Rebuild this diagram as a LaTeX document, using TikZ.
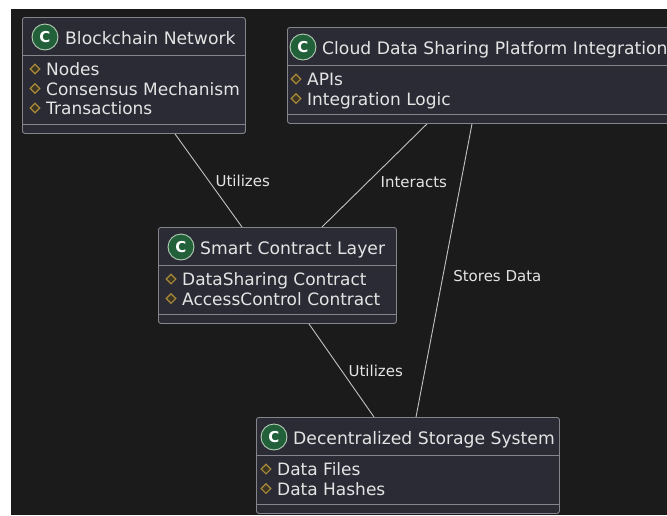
\documentclass[tikz,border=0pt]{standalone}
\usepackage{fontspec}
\setmainfont{DejaVu Sans}
\usetikzlibrary{shapes.geometric}

\definecolor{pagebg}{HTML}{1B1B1B}
\definecolor{boxfill}{HTML}{2B2B35}
\definecolor{boxline}{HTML}{85858C}
\definecolor{inktext}{HTML}{E4E4E4}
\definecolor{badgefill}{HTML}{22603A}
\definecolor{badgeline}{HTML}{B4CDB4}
\definecolor{visgold}{HTML}{A88A3A}
\definecolor{visfill}{HTML}{3E3624}

\tikzset{
  classbox/.style={draw=boxline, fill=boxfill, line width=0.9pt, rounded corners=2.5pt,
    rectangle, inner sep=0pt, anchor=north west},
  sepline/.style={boxline, line width=0.9pt},
  cbadge/.style={circle, draw=badgeline, fill=badgefill, line width=0.9pt,
    minimum size=26pt, inner sep=0pt, text=white, font=\fontsize{15}{15}\selectfont\bfseries},
  ctitle/.style={anchor=base west, inner sep=0pt, text=inktext, font=\fontsize{17.2}{20}\selectfont},
  attr/.style={anchor=base west, inner sep=0pt, text=inktext, font=\fontsize{17}{20}\selectfont},
  vis/.style={diamond, draw=visgold, fill=visfill, line width=1.1pt, minimum size=10pt, inner sep=0pt},
  link/.style={draw=inktext!85!black, line width=0.9pt},
  lbl/.style={anchor=west, inner sep=0pt, text=inktext, font=\fontsize{15}{18}\selectfont}
}

\begin{document}
\begin{tikzpicture}[x=1pt, y=-1pt]
        \useasboundingbox (0,0) rectangle (667,515);
        \fill[white] (0,0) rectangle (667,515);
        \fill[pagebg] (11,9) rectangle (667,515);
        \clip (0,0) rectangle (667,515);
        % Blockchain Network
        \node[classbox, minimum width=223pt, minimum height=116pt] (bc) at (22,17) {};
        \draw[sepline] ([yshift=-38.5pt]bc.north west) -- ([yshift=-38.5pt]bc.north east);
        \draw[sepline] ([yshift=9.5pt]bc.south west) -- ([yshift=9.5pt]bc.south east);
        \node[cbadge] (bcc) at ([xshift=23pt,yshift=-20pt]bc.north west) {C};
        \node[ctitle] (bct) at ([xshift=43pt,yshift=-27.5pt]bc.north west) {Blockchain Network};
        \node[vis] (bcv1) at ([xshift=13pt,yshift=-52pt]bc.north west) {};
        \node[vis] (bcv2) at ([xshift=13pt,yshift=-71.5pt]bc.north west) {};
        \node[vis] (bcv3) at ([xshift=13pt,yshift=-91pt]bc.north west) {};
        \node[attr] (bca1) at ([xshift=24pt,yshift=-58.5pt]bc.north west) {Nodes};
        \node[attr] (bca2) at ([xshift=24pt,yshift=-78pt]bc.north west) {Consensus Mechanism};
        \node[attr] (bca3) at ([xshift=24pt,yshift=-97.5pt]bc.north west) {Transactions};
        % Cloud Data Sharing Platform Integration
        \node[classbox, minimum width=400pt, minimum height=96pt] (cl) at (287,27) {};
        \draw[sepline] ([yshift=-38.5pt]cl.north west) -- ([yshift=-38.5pt]cl.north east);
        \draw[sepline] ([yshift=9.5pt]cl.south west) -- ([yshift=9.5pt]cl.south east);
        \node[cbadge] (clc) at ([xshift=16pt,yshift=-20pt]cl.north west) {C};
        \node[ctitle] (clt) at ([xshift=35pt,yshift=-27.5pt]cl.north west) {Cloud Data Sharing Platform Integration};
        \node[vis] (clv1) at ([xshift=9pt,yshift=-52pt]cl.north west) {};
        \node[vis] (clv2) at ([xshift=9pt,yshift=-71.5pt]cl.north west) {};
        \node[attr] (cla1) at ([xshift=20pt,yshift=-58.5pt]cl.north west) {APIs};
        \node[attr] (cla2) at ([xshift=20pt,yshift=-78pt]cl.north west) {Integration Logic};
        % Smart Contract Layer
        \node[classbox, minimum width=238pt, minimum height=96pt] (sc) at (158,227) {};
        \draw[sepline] ([yshift=-38.5pt]sc.north west) -- ([yshift=-38.5pt]sc.north east);
        \draw[sepline] ([yshift=9.5pt]sc.south west) -- ([yshift=9.5pt]sc.south east);
        \node[cbadge] (scc) at ([xshift=23pt,yshift=-20pt]sc.north west) {C};
        \node[ctitle] (sct) at ([xshift=42pt,yshift=-27.5pt]sc.north west) {Smart Contract Layer};
        \node[vis] (scv1) at ([xshift=13pt,yshift=-52pt]sc.north west) {};
        \node[vis] (scv2) at ([xshift=13pt,yshift=-71.5pt]sc.north west) {};
        \node[attr] (sca1) at ([xshift=24pt,yshift=-58.5pt]sc.north west) {DataSharing Contract};
        \node[attr] (sca2) at ([xshift=24pt,yshift=-78pt]sc.north west) {AccessControl Contract};
        % Decentralized Storage System
        \node[classbox, minimum width=303pt, minimum height=96pt] (ds) at (256,417) {};
        \draw[sepline] ([yshift=-38.5pt]ds.north west) -- ([yshift=-38.5pt]ds.north east);
        \draw[sepline] ([yshift=9.5pt]ds.south west) -- ([yshift=9.5pt]ds.south east);
        \node[cbadge] (dsc) at ([xshift=18pt,yshift=-20pt]ds.north west) {C};
        \node[ctitle] (dst) at ([xshift=37pt,yshift=-27.5pt]ds.north west) {Decentralized Storage System};
        \node[vis] (dsv1) at ([xshift=10pt,yshift=-52pt]ds.north west) {};
        \node[vis] (dsv2) at ([xshift=10pt,yshift=-71.5pt]ds.north west) {};
        \node[attr] (dsa1) at ([xshift=21pt,yshift=-58.5pt]ds.north west) {Data Files};
        \node[attr] (dsa2) at ([xshift=21pt,yshift=-78pt]ds.north west) {Data Hashes};
        % links
        \draw[link] ([xshift=153pt]bc.south west) -- node[lbl, pos=0.51, xshift=6pt] {Utilizes} ([xshift=84pt]sc.north west);
        \draw[link] ([xshift=140pt]cl.south west) -- node[lbl, pos=0.56, xshift=12pt] {Interacts} ([xshift=164pt]sc.north west);
        \draw[link] ([xshift=185pt]cl.south west) -- node[lbl, pos=0.52, xshift=10pt] {Stores Data} ([xshift=160pt]ds.north west);
        \draw[link] ([xshift=151pt]sc.south west) -- node[lbl, pos=0.51, xshift=6pt] {Utilizes} ([xshift=118pt]ds.north west);
      \end{tikzpicture}
\end{document}
